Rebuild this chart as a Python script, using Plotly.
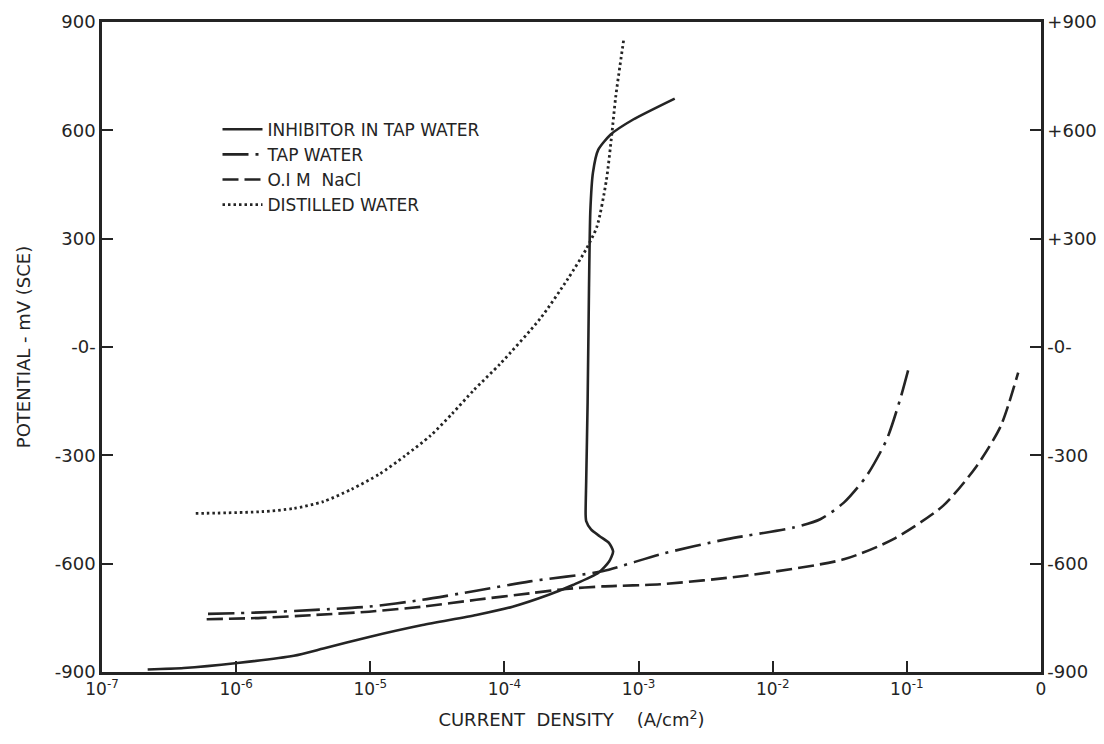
import plotly.graph_objects as go

# ---- data ----
inhib_i = [2.19e-7, 4.07e-7, 1.02e-6, 2.69e-6, 4.47e-6, 9.8e-6, 2.45e-5, 6.17e-5, 1.15e-4,
           2.14e-4, 3.24e-4, 5.0e-4, 6.03e-4, 6.46e-4, 6.03e-4, 5.13e-4, 4.42e-4, 4.07e-4,
           4.03e-4, 4.07e-4, 4.17e-4, 4.27e-4, 4.37e-4, 4.57e-4, 5.0e-4, 6.17e-4, 9.12e-4, 1.86e-3]
inhib_e = [-893, -889, -875, -855, -835, -803, -770, -742, -719,
           -686, -659, -626, -594, -566, -543, -524, -505, -482,
           -464, -371, -153, 164, 377, 483, 546, 588, 630, 688]

tap_i = [6.17e-7, 1.55e-6, 3.89e-6, 9.77e-6, 2.45e-5, 6.17e-5, 1.55e-4, 5.37e-4, 1.45e-3,
         4.57e-3, 1.43e-2, 2.26e-2, 3.39e-2, 5.01e-2, 7.08e-2, 8.91e-2, 1.05e-1]
tap_e = [-739, -735, -728, -719, -700, -675, -649, -621, -574,
         -532, -500, -477, -431, -357, -256, -145, -48]

nacl_i = [6.03e-7, 1.55e-6, 3.89e-6, 9.77e-6, 2.45e-5, 6.17e-5, 1.55e-4, 2.88e-4, 5.37e-4,
          1.45e-3, 6.03e-3, 3.39e-2, 7.94e-2, 1.86e-1, 3.31e-1, 5.01e-1, 6.76e-1]
nacl_e = [-754, -750, -742, -733, -719, -700, -682, -670, -663,
          -657, -634, -588, -532, -440, -330, -219, -71]

dist_i = [5.0e-7, 1.55e-6, 2.69e-6, 4.47e-6, 7.24e-6, 1.17e-5, 1.82e-5, 2.82e-5, 4.07e-5,
          5.89e-5, 9.33e-5, 1.86e-4, 2.95e-4, 4.07e-4, 4.90e-4, 5.75e-4, 6.31e-4, 6.76e-4, 7.76e-4]
dist_e = [-461, -456, -447, -428, -394, -352, -301, -245, -185,
          -120, -46, 80, 187, 271, 334, 461, 588, 694, 853]

x_tickvals = [1e-7, 1e-6, 1e-5, 1e-4, 1e-3, 1e-2, 1e-1, 1]
x_ticktext = ["10<sup>-7</sup>", "10<sup>-6</sup>", "10<sup>-5</sup>", "10<sup>-4</sup>",
              "10<sup>-3</sup>", "10<sup>-2</sup>", "10<sup>-1</sup>", "0"]
y_tickvals = [900, 600, 300, 0, -300, -600, -900]
y_left_text = ["900", "600", "300", "-0-", "-300", "-600", "-900"]
y_right_text = ["+900", "+600", "+300", "-0-", "-300", "-600", "-900"]

INK = "#242424"
FONT = "DejaVu Sans"

fig = go.Figure()
fig.add_trace(go.Scatter(x=inhib_i, y=inhib_e, mode="lines", name="INHIBITOR IN TAP WATER",
                         line=dict(color=INK, width=2.6, shape="spline", smoothing=0.6)))
fig.add_trace(go.Scatter(x=tap_i, y=tap_e, mode="lines", name="TAP WATER",
                         line=dict(color=INK, width=2.6, dash="26px,7px,3px,7px",
                                   shape="spline", smoothing=0.7)))
fig.add_trace(go.Scatter(x=nacl_i, y=nacl_e, mode="lines", name="O.I M  NaCl",
                         line=dict(color=INK, width=2.6, dash="16px,6px",
                                   shape="spline", smoothing=0.7)))
fig.add_trace(go.Scatter(x=dist_i, y=dist_e, mode="lines", name="DISTILLED WATER",
                         line=dict(color=INK, width=2.8, dash="2.5px,3px",
                                   shape="spline", smoothing=0.7)))
# carrier for the right-hand axis
fig.add_trace(go.Scatter(x=[], y=[], yaxis="y2", showlegend=False, hoverinfo="skip"))

fig.update_layout(
    width=1104, height=744,
    margin=dict(l=102, r=63, t=22, b=72, autoexpand=False),
    paper_bgcolor="white", plot_bgcolor="white",
    font=dict(family=FONT, color=INK, size=18),
    showlegend=True,
    legend=dict(x=0.123, y=0.862, xanchor="left", yanchor="top",
                bgcolor="rgba(0,0,0,0)", font=dict(size=17, color=INK),
                tracegroupgap=0, itemwidth=40),
    xaxis=dict(type="log", range=[-7, 0], tickvals=x_tickvals, ticktext=x_ticktext,
               ticks="inside", ticklen=11, tickwidth=1.5, tickcolor=INK,
               showline=True, linewidth=2.5, linecolor=INK, mirror=True,
               showgrid=False, zeroline=False, automargin=False,
               tickfont=dict(size=17, color=INK),
               title=dict(text="CURRENT  DENSITY    (A/cm<sup>2</sup>)",
                          font=dict(size=18, color=INK), standoff=16)),
    yaxis=dict(range=[-900, 900], tickvals=y_tickvals, ticktext=y_left_text,
               ticks="inside", ticklen=11, tickwidth=1.5, tickcolor=INK,
               showline=True, linewidth=2.5, linecolor=INK,
               showgrid=False, zeroline=False, automargin=False,
               tickfont=dict(size=18, color=INK),
               title=dict(text="POTENTIAL - mV (SCE)", font=dict(size=18, color=INK), standoff=20)),
    yaxis2=dict(range=[-900, 900], overlaying="y", side="right",
                tickvals=y_tickvals, ticktext=y_right_text,
                ticks="inside", ticklen=11, tickwidth=1.5, tickcolor=INK,
                showline=True, linewidth=2.5, linecolor=INK,
                showgrid=False, zeroline=False, automargin=False,
                tickfont=dict(size=18, color=INK)),
)

fig.write_html("out.html")
